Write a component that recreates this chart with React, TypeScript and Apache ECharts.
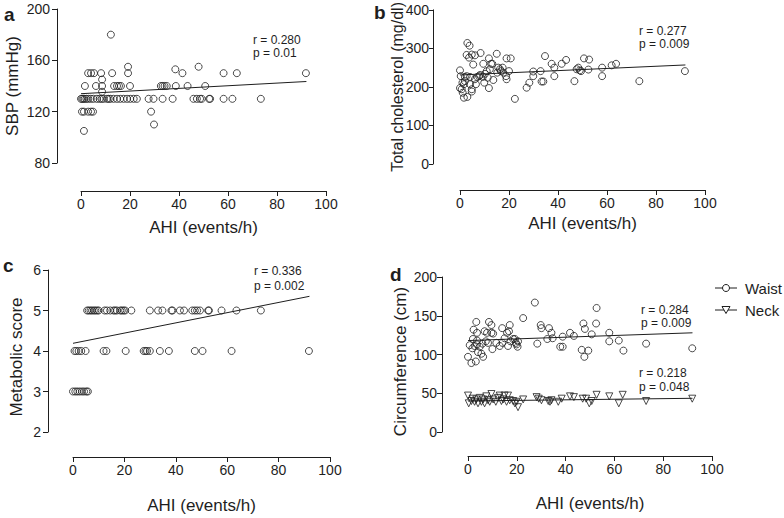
import React, { useEffect, useRef } from "react";
import * as echarts from "echarts";

const FONT = "'Liberation Sans', Arial, Helvetica, sans-serif";
const INK = "#1e1e1e";

const ahiTicks = [0, 20, 40, 60, 80, 100];
const ahiLabel = "AHI (events/h)";

// Panel a: SBP vs AHI
const sbpPoints: [number, number][] = [
  [0, 130], [0.5, 130], [1, 130], [1.5, 130], [2.2, 130], [3, 130], [4, 130], [5.1, 130], [6.5, 130], [7.6, 130],
  [8.4, 130], [9.2, 130], [10.6, 130], [11.3, 130], [12, 130], [13.3, 130], [14.7, 130], [16, 130], [17.4, 130],
  [18.8, 130], [20.1, 130], [21.5, 130], [22.8, 130], [27.6, 130], [29.6, 130], [33.3, 130], [37.4, 130],
  [45.9, 130], [47.3, 130], [48.6, 130], [49.3, 130], [52.3, 130], [52.7, 130], [58.2, 130], [61.8, 130], [73.4, 130],
  [0.4, 120], [1.2, 120], [2.9, 120], [4.1, 120], [4.9, 120], [28.6, 120],
  [1.2, 105], [29.8, 110],
  [1.6, 140], [6.1, 140], [8.6, 140], [13.5, 140], [14.7, 140], [15.5, 140], [16.3, 140], [20, 140],
  [32.6, 140], [33.3, 140], [34.1, 140], [35, 140], [38.7, 140], [43.5, 140], [50.7, 140],
  [2.9, 150], [4.1, 150], [5.3, 150], [8.2, 150], [12.7, 150], [19.2, 150], [41.4, 150], [58.2, 150], [63.6, 150], [91.8, 150],
  [8.6, 145], [19.2, 155], [48, 155], [38.5, 153], [8.6, 135.5], [12.2, 180],
];
const sbpTrend: [number, number][] = [[0, 134], [92, 143.5]];

// Panel b: total cholesterol vs AHI
const cholPoints: [number, number][] = [
  [3, 314], [3.9, 307], [2.7, 283], [3.7, 276], [4.8, 284], [6.1, 282], [8.4, 288], [11.8, 274], [15, 286],
  [5.4, 258], [9.5, 260], [12.7, 260], [13.2, 260], [19, 274], [20.7, 274], [34.7, 280], [37.4, 260], [41.5, 260],
  [43.3, 270], [50.6, 274], [52.7, 271], [58, 250], [58, 228], [61.9, 256], [63.7, 260], [91.8, 241], [73.2, 215],
  [46.7, 215], [52.4, 245], [47.6, 246], [48.3, 250], [49.4, 241], [48.9, 243], [38.5, 250], [38.5, 228],
  [33.3, 214], [34, 214], [32.9, 241], [29.9, 240], [29.9, 228], [28.3, 211], [27.2, 198], [22.4, 169],
  [20, 241], [19, 220], [18.8, 228], [15.6, 250], [16.3, 246], [16.7, 241], [17.4, 250], [17.7, 237], [15.2, 237],
  [13.6, 218], [11.8, 197], [10.2, 234], [9.9, 211], [10.9, 241], [12.2, 246], [11.3, 224], [9.3, 226], [7.8, 228],
  [6.5, 207], [6.1, 220], [7.1, 226], [8.2, 231], [4.8, 188], [4.8, 194], [4.1, 207], [2.7, 228], [2, 215],
  [1.6, 207], [1, 211], [0, 197], [0.7, 194], [1.1, 185], [1.6, 172], [3, 174], [0.3, 228], [2, 226], [4.1, 226], [0, 243],
];
const cholTrend: [number, number][] = [[0, 231], [92, 257]];

// Panel c: metabolic score vs AHI
const metPoints: [number, number][] = [
  [5.5, 5], [6.1, 5], [6.8, 5], [7.4, 5], [8.1, 5], [8.7, 5], [9.4, 5], [10, 5], [12.3, 5], [13.2, 5], [14.5, 5],
  [15.8, 5], [16.4, 5], [17.1, 5], [18.4, 5], [19, 5], [19.7, 5], [20.3, 5], [22.7, 5], [29.9, 5], [33.1, 5],
  [34.8, 5], [38.3, 5], [38.7, 5], [41.6, 5], [43.2, 5], [46.4, 5], [47.4, 5], [48.3, 5], [49.4, 5], [52.6, 5],
  [52.9, 5], [57.8, 5], [63.6, 5], [73.1, 5],
  [0.6, 4], [1.3, 4], [2.2, 4], [3.2, 4], [4.9, 4], [11.9, 4], [13, 4], [20.5, 4], [27.5, 4], [28.2, 4], [28.8, 4],
  [29.9, 4], [33.8, 4], [37.3, 4], [47.4, 4], [50.4, 4], [61.7, 4], [91.8, 4],
  [0, 3], [0.9, 3], [1.7, 3], [2.6, 3], [3.5, 3], [4.3, 3], [5.2, 3], [5.8, 3],
];
const metTrend: [number, number][] = [[0, 4.19], [92, 5.35]];

// Panel d: waist and neck circumference vs AHI
const waistPoints: [number, number][] = [
  [27.4, 167], [52.7, 160], [47.3, 140], [47.9, 133], [52.5, 140], [3.4, 142], [8.6, 142], [9.6, 138], [2.3, 132],
  [3.7, 128], [6.8, 130], [7.8, 128], [9.6, 128], [10.3, 127], [14, 134], [16, 128], [16.8, 130], [17.1, 138],
  [22.6, 147], [29.8, 138], [30.1, 134], [33.2, 134], [34.2, 128], [32.5, 120], [34.7, 121], [38.8, 123],
  [41.8, 128], [43.4, 124], [50.7, 126], [57.9, 128], [57.9, 117], [61.8, 118], [63.7, 105], [73, 114], [91.9, 108],
  [28.4, 114], [37.8, 110], [38.8, 110], [46.6, 106], [47.7, 97], [49.3, 105], [0.7, 112], [0, 97], [1.4, 89],
  [3.2, 91], [1.8, 108], [2.7, 111], [3.7, 113], [4.8, 110], [5.9, 114], [5.5, 101], [6.2, 97], [4.1, 103],
  [2, 120], [3.7, 118], [7.3, 117], [8.2, 115], [10, 107], [11.6, 115], [13, 111], [14.1, 115], [15, 121],
  [16.4, 111], [17.4, 117], [18.5, 120], [19.6, 115], [19.2, 120], [20.5, 117], [19.9, 113], [20.3, 110],
];
const neckPoints: [number, number][] = [
  [0, 47], [0.3, 37], [1.4, 40], [1.9, 43], [2.7, 39], [3.4, 42], [4.1, 37], [4.8, 44], [5.5, 39], [6.2, 42],
  [6.8, 37], [7.5, 46], [8.2, 41], [8.9, 39], [9.6, 49], [10.3, 42], [11.4, 39], [12.3, 44], [13, 47], [13.7, 40],
  [14.4, 42], [15, 47], [15.8, 39], [16.4, 47], [17.1, 41], [18.5, 40], [19.2, 37], [19.9, 39], [20.5, 32],
  [22.6, 42], [28.1, 45], [29, 43], [30.1, 41], [32.9, 40], [33.6, 39], [34.2, 41], [37, 39], [38.4, 43],
  [41.8, 46], [43.4, 45], [47, 43], [48.4, 43], [49.7, 37], [50.7, 40], [52.7, 48], [57.9, 46], [61.8, 37],
  [63.4, 48], [73, 40], [91.9, 43],
];
const waistTrend: [number, number][] = [[0, 118], [92, 128]];
const neckTrend: [number, number][] = [[0, 40], [92, 43.5]];

const axisCommon = {
  nameMoveOverlap: false,
  axisLine: { show: true, onZero: false, lineStyle: { color: INK, width: 1 } },
  splitLine: { show: false },
};

function xAxisFor(gridIndex: number, offset: number, nameGap: number) {
  return {
    type: "value",
    gridIndex,
    min: ahiTicks[0],
    max: ahiTicks[ahiTicks.length - 1],
    interval: ahiTicks[1] - ahiTicks[0],
    position: "bottom",
    offset,
    name: ahiLabel,
    nameLocation: "middle",
    nameGap,
    nameTextStyle: { fontSize: 17, color: INK, fontFamily: FONT },
    axisLabel: { fontSize: 14, color: INK, margin: 6, fontFamily: FONT },
    axisTick: { show: true, length: 5, lineStyle: { color: INK, width: 1 } },
    ...axisCommon,
  };
}

function yAxisFor(
  gridIndex: number, min: number, max: number, interval: number, name: string,
  offset: number, nameGap: number, shiftDown = 0, nameSize = 17, labelMargin = 7, tickLen = 5,
) {
  return {
    type: "value",
    gridIndex,
    min,
    max,
    interval,
    position: "left",
    offset,
    name,
    nameLocation: "middle",
    nameGap,
    nameTextStyle: {
      fontSize: nameSize, color: INK, fontFamily: FONT,
      padding: shiftDown > 0 ? [0, shiftDown * 2, 0, 0] : shiftDown < 0 ? [0, 0, 0, -shiftDown * 2] : 0,
    },
    axisLabel: { fontSize: 14, color: INK, margin: labelMargin, fontFamily: FONT },
    axisTick: { show: true, length: tickLen, lineStyle: { color: INK, width: 1 } },
    ...axisCommon,
  };
}

function scatter(idx: number, data: [number, number][], symbol = "circle", rotate = 0) {
  return {
    type: "scatter",
    xAxisIndex: idx,
    yAxisIndex: idx,
    data,
    symbol,
    symbolRotate: rotate,
    symbolSize: 7,
    silent: true,
    itemStyle: { color: "rgba(255,255,255,0)", borderColor: INK, borderWidth: 1 },
  };
}

function trend(idx: number, data: [number, number][]) {
  return {
    type: "line",
    xAxisIndex: idx,
    yAxisIndex: idx,
    data,
    symbol: "none",
    silent: true,
    lineStyle: { color: INK, width: 1 },
  };
}

function txt(x: number, y: number, text: string, fontSize = 12, bold = false) {
  return {
    type: "text",
    x,
    y,
    silent: true,
    style: {
      text,
      fontSize,
      fontFamily: bold ? "Arial, 'Liberation Sans', sans-serif" : FONT,
      fontWeight: bold ? "bold" : "normal",
      fill: INK,
      align: "left",
      verticalAlign: "middle",
    },
  };
}

export default function App() {
  const ref = useRef<HTMLDivElement>(null);
  useEffect(() => {
    if (!ref.current) return;
    const chart = echarts.init(ref.current, null, { renderer: "svg" });
    const option = {
      animation: false,
      backgroundColor: "#ffffff",
      grid: [
        { left: 81, top: 9, width: 245, height: 154 },
        { left: 460, top: 8, width: 245, height: 156 },
        { left: 73, top: 270, width: 257, height: 162 },
        { left: 468, top: 277, width: 244, height: 155 },
      ],
      xAxis: [xAxisFor(0, 28, 28), xAxisFor(1, 26, 25), xAxisFor(2, 25, 40), xAxisFor(3, 24, 39)],
      yAxis: [
        yAxisFor(0, 80, 200, 40, "SBP (mmHg)", 24, 36),
        yAxisFor(1, 0, 400, 100, "Total cholesterol (mg/dl)", 27, 28, 0, 16, 4, 4),
        yAxisFor(2, 2, 6, 1, "Metabolic score", 25, 23, 6),
        yAxisFor(3, 0, 200, 50, "Circumference (cm)", 26, 33, 7, 17, 5, 5),
      ],
      series: [
        scatter(0, sbpPoints),
        trend(0, sbpTrend),
        scatter(1, cholPoints),
        trend(1, cholTrend),
        scatter(2, metPoints),
        trend(2, metTrend),
        scatter(3, waistPoints),
        scatter(3, neckPoints, "triangle", 180),
        trend(3, waistTrend),
        trend(3, neckTrend),
      ],
      graphic: [
        txt(4, 14, "a", 19, true),
        txt(374, 12, "b", 19, true),
        txt(3, 265, "c", 19, true),
        txt(390, 274, "d", 19, true),
        txt(253, 40, "r = 0.280"),
        txt(253, 53, "p = 0.01"),
        txt(639, 31, "r = 0.277"),
        txt(639, 44, "p = 0.009"),
        txt(254, 271, "r = 0.336"),
        txt(254, 286, "p = 0.002"),
        txt(641, 310, "r = 0.284"),
        txt(641, 323, "p = 0.009"),
        txt(639, 373, "r = 0.218"),
        txt(639, 387, "p = 0.048"),
        { type: "line", silent: true, shape: { x1: 715, y1: 288, x2: 737, y2: 288 }, style: { stroke: INK, lineWidth: 1 } },
        { type: "circle", silent: true, shape: { cx: 726, cy: 288, r: 3.5 }, style: { fill: "#fff", stroke: INK, lineWidth: 1 } },
        txt(745, 288, "Waist", 15),
        { type: "line", silent: true, shape: { x1: 715, y1: 310, x2: 737, y2: 310 }, style: { stroke: INK, lineWidth: 1 } },
        {
          type: "polygon",
          silent: true,
          shape: { points: [[722, 306.5], [730, 306.5], [726, 313.5]] },
          style: { fill: "#fff", stroke: INK, lineWidth: 1 },
        },
        txt(745, 310, "Neck", 15),
      ],
    };
    chart.setOption(option as any);
    return () => chart.dispose();
  }, []);
  return (
    <div
      ref={ref}
      style={{ position: "fixed", left: 0, top: 0, width: 784, height: 518, background: "#fff" }}
    />
  );
}
